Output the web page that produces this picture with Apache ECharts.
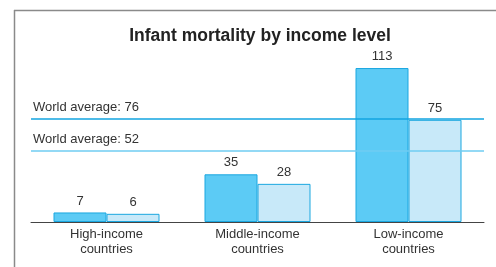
<!DOCTYPE html>
<html>
<head>
<meta charset="utf-8">
<script src="https://cdn.jsdelivr.net/npm/echarts@6/dist/echarts.min.js"></script>
<style>
  html, body { margin: 0; padding: 0; background: #fff; }
  #chart { width: 496px; height: 267px; }
</style>
</head>
<body>
<div id="chart"></div>
<script>
  var categories = ['High-income\ncountries', 'Middle-income\ncountries', 'Low-income\ncountries'];
  var seriesA = [7, 35, 113];
  var seriesB = [6, 28, 75];
  var averages = [76, 52];
  var averageLabels = ['World average: 76', 'World average: 52'];

  var myChart = echarts.init(document.getElementById('chart'));

  var option = {
    animation: false,
    title: {
      text: 'Infant mortality by income level',
      left: 255,
      textAlign: 'center',
      top: 22,
      textStyle: { fontFamily: 'Liberation Sans', fontSize: 17.5, fontWeight: 'bold', color: '#222' }
    },
    graphic: [
      // frame, top and left edges
      { type: 'line', shape: { x1: 14, y1: 10.5, x2: 496, y2: 10.5 }, style: { stroke: '#8a8a8a', lineWidth: 1.5 } },
      { type: 'line', shape: { x1: 14.5, y1: 10, x2: 14.5, y2: 267 }, style: { stroke: '#8a8a8a', lineWidth: 1.5 } }
    ],
    grid: { left: 31, right: 12, top: 58.5, bottom: 45 },
    xAxis: {
      type: 'category',
      data: categories,
      axisLine: { lineStyle: { color: '#444', width: 1 } },
      axisTick: { length: 5, lineStyle: { color: '#444', width: 1 } },
      axisLabel: { fontFamily: 'Liberation Sans', fontSize: 13, color: '#333', lineHeight: 15, margin: 5 }
    },
    yAxis: {
      type: 'value',
      min: 0,
      max: 120,
      show: false,
      splitLine: { show: false }
    },
    series: [
      {
        type: 'bar',
        data: seriesA,
        barWidth: 53,
        barGap: '0%',
        itemStyle: { color: '#5ccbf5', borderColor: '#1aa7e0', borderWidth: 1 },
        label: { show: true, position: 'top', distance: 5, fontFamily: 'Liberation Sans', fontSize: 13, color: '#333' },
        markLine: {
          silent: true,
          symbol: 'none',
          data: [
            { yAxis: averages[0], lineStyle: { color: '#12a5e0', width: 1.5, type: 'solid' },
              label: { formatter: averageLabels[0] } },
            { yAxis: averages[1], lineStyle: { color: '#6fcdf2', width: 1.5, type: 'solid' },
              label: { formatter: averageLabels[1] } }
          ],
          label: { position: 'insideStartTop', distance: [2, 5], fontFamily: 'Liberation Sans', fontSize: 13, color: '#333' }
        }
      },
      {
        type: 'bar',
        data: seriesB,
        barWidth: 53,
        itemStyle: { color: '#c8e9f9', borderColor: '#1aa7e0', borderWidth: 1 },
        label: { show: true, position: 'top', distance: 5, fontFamily: 'Liberation Sans', fontSize: 13, color: '#333' }
      }
    ]
  };

  option && myChart.setOption(option, true);
</script>
</body>
</html>
